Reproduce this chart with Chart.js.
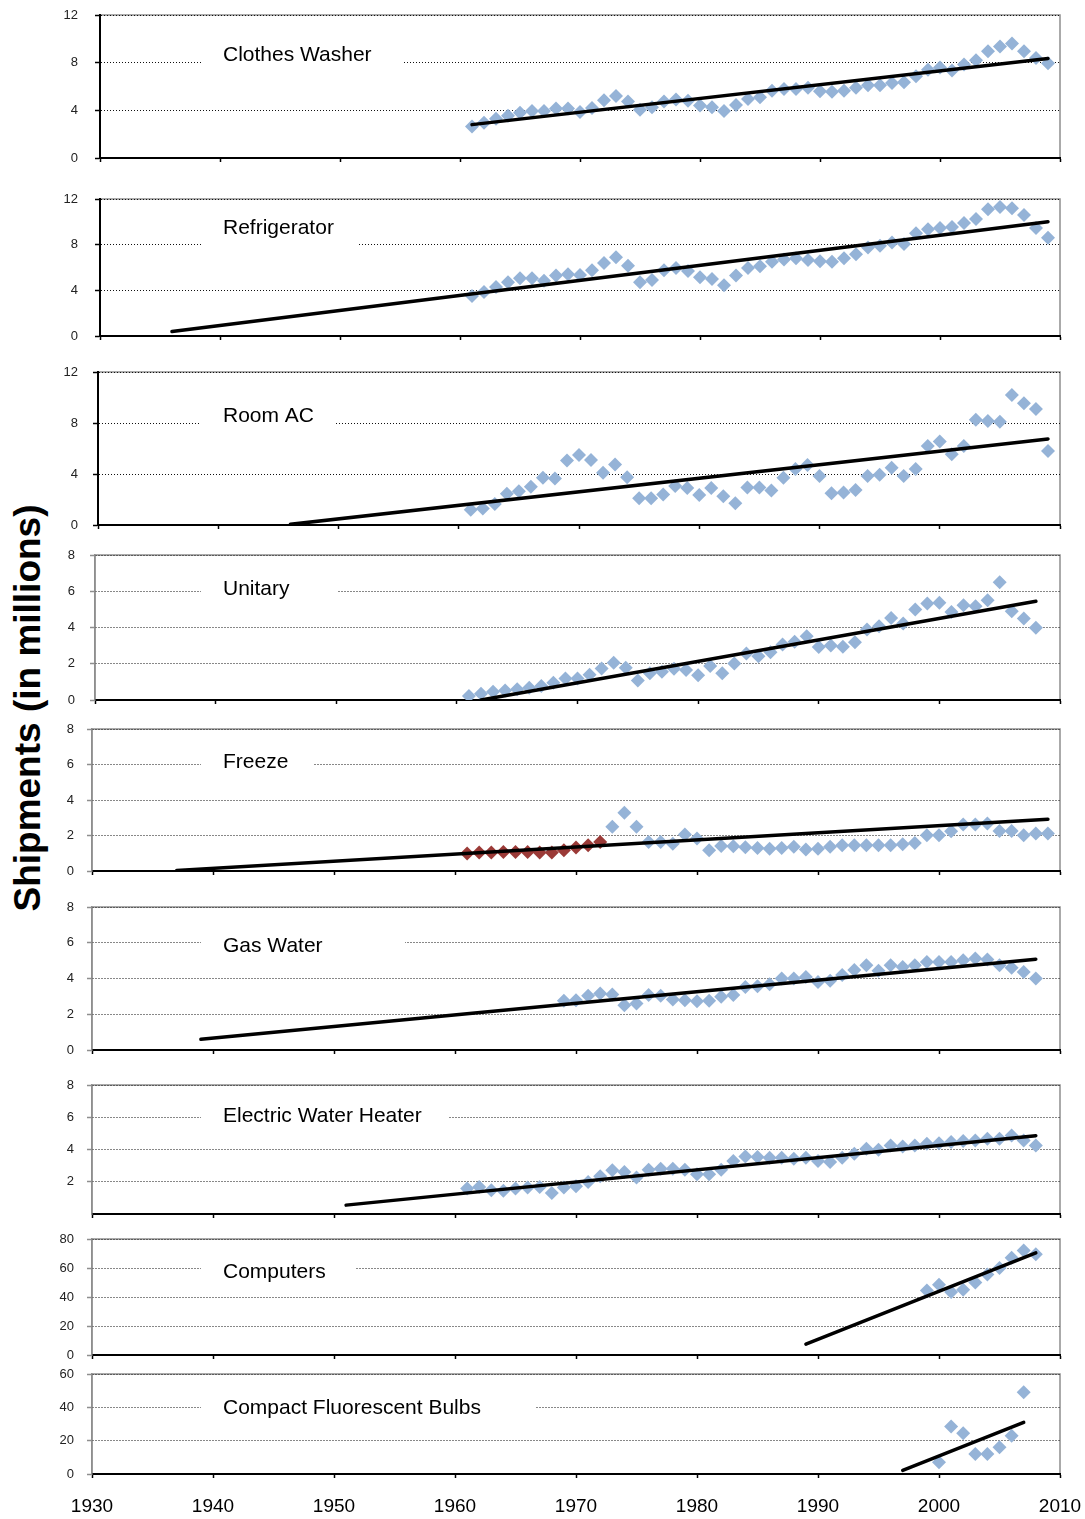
<!DOCTYPE html>
<html>
<head>
<meta charset="utf-8">
<title>Appliance shipments</title>
<script src="https://cdn.jsdelivr.net/npm/chart.js@4.4.1/dist/chart.umd.min.js"></script>
<style>
  html, body { margin: 0; padding: 0; background: #fff; }
  #page { position: relative; width: 1085px; height: 1519px; overflow: hidden; background: #fff; }
  #page canvas { position: absolute; left: 0; }
  #ytitle {
    position: absolute; left: -223px; top: 688px; width: 500px; height: 40px;
    line-height: 40px; text-align: center; white-space: nowrap; color: #000;
    font: bold 37px "Liberation Sans", Arial, Helvetica, sans-serif;
    transform: rotate(-90deg);
  }
</style>
</head>
<body>
<div id="page"><div id="ytitle">Shipments (in millions)</div></div>
<script>
// ---- Years ----
const years1961to2009 = [1961,1962,1963,1964,1965,1966,1967,1968,1969,1970,
  1971,1972,1973,1974,1975,1976,1977,1978,1979,1980,
  1981,1982,1983,1984,1985,1986,1987,1988,1989,1990,
  1991,1992,1993,1994,1995,1996,1997,1998,1999,2000,
  2001,2002,2003,2004,2005,2006,2007,2008,2009];
const years1961to2008 = [1961,1962,1963,1964,1965,1966,1967,1968,1969,1970,
  1971,1972,1973,1974,1975,1976,1977,1978,1979,1980,
  1981,1982,1983,1984,1985,1986,1987,1988,1989,1990,
  1991,1992,1993,1994,1995,1996,1997,1998,1999,2000,
  2001,2002,2003,2004,2005,2006,2007,2008];
const freezerEarlyYears = [1961,1962,1963,1964,1965,1966,1967,1968,1969,1970,1971,1972];
const freezerLateYears = [1973,1974,1975,1976,1977,1978,1979,1980,
  1981,1982,1983,1984,1985,1986,1987,1988,1989,1990,
  1991,1992,1993,1994,1995,1996,1997,1998,1999,2000,
  2001,2002,2003,2004,2005,2006,2007,2008,2009];
const gasWaterYears = [1969,1970,1971,1972,1973,1974,1975,1976,1977,1978,1979,1980,
  1981,1982,1983,1984,1985,1986,1987,1988,1989,1990,
  1991,1992,1993,1994,1995,1996,1997,1998,1999,2000,
  2001,2002,2003,2004,2005,2006,2007,2008];
const computerYears = [1999,2000,2001,2002,2003,2004,2005,2006,2007,2008];
const cflYears = [2000,2001,2002,2003,2004,2005,2006,2007];

// ---- Shipments, millions of units ----
const washerShipments = [2.65,2.95,3.3,3.55,3.8,3.95,3.95,4.15,4.15,3.85,
  4.2,4.85,5.2,4.75,4.05,4.25,4.75,4.9,4.8,4.4,
  4.25,3.95,4.45,4.95,5.1,5.65,5.8,5.8,5.9,5.6,
  5.55,5.65,5.9,6.1,6.1,6.3,6.35,6.85,7.4,7.6,
  7.35,7.85,8.2,8.95,9.35,9.6,8.95,8.4,7.95];
const refrigeratorShipments = [3.5,3.85,4.3,4.7,5.05,5.05,4.85,5.3,5.4,5.35,
  5.75,6.4,6.9,6.15,4.7,4.9,5.75,5.95,5.7,5.15,
  5.0,4.45,5.3,5.95,6.1,6.5,6.7,6.8,6.65,6.55,
  6.5,6.8,7.15,7.75,7.9,8.2,8.05,9.0,9.35,9.45,
  9.55,9.9,10.25,11.1,11.3,11.2,10.6,9.45,8.6];
const roomAcShipments = [1.2,1.3,1.65,2.45,2.65,3.0,3.7,3.65,5.05,5.5,
  5.1,4.1,4.75,3.75,2.1,2.1,2.4,3.05,2.9,2.35,
  2.9,2.25,1.7,2.95,2.95,2.7,3.7,4.4,4.7,3.85,
  2.5,2.55,2.75,3.85,3.95,4.5,3.85,4.4,6.2,6.55,
  5.55,6.2,8.25,8.15,8.1,10.2,9.55,9.1,5.8];
const unitaryShipments = [0.22,0.35,0.46,0.53,0.6,0.68,0.77,0.95,1.19,1.19,
  1.4,1.74,2.06,1.78,1.08,1.47,1.56,1.72,1.65,1.36,
  1.87,1.47,2.02,2.57,2.42,2.64,3.06,3.21,3.52,2.92,
  3.01,2.94,3.19,3.89,4.07,4.53,4.22,4.99,5.32,5.36,
  4.86,5.23,5.17,5.5,6.5,4.9,4.5,3.98];
const freezerEarlyShipments = [0.98,1.04,1.04,1.07,1.07,1.07,1.04,1.04,1.17,1.32,1.45,1.64];
const freezerShipments = [2.49,3.28,2.49,1.64,1.64,1.54,2.05,1.83,
  1.17,1.41,1.39,1.34,1.3,1.26,1.3,1.36,1.21,1.26,
  1.36,1.45,1.45,1.45,1.45,1.45,1.51,1.58,2.01,2.01,
  2.24,2.62,2.62,2.67,2.26,2.26,2.01,2.11,2.11];
const gasWaterShipments = [2.75,2.79,3.03,3.16,3.11,2.51,2.6,3.07,3.03,2.83,2.79,2.73,
  2.75,2.98,3.07,3.53,3.57,3.68,4.0,4.0,4.09,3.81,
  3.87,4.19,4.47,4.74,4.43,4.74,4.65,4.74,4.93,4.93,
  4.93,5.02,5.12,5.06,4.74,4.6,4.37,4.0];
const electricWaterShipments = [1.58,1.68,1.48,1.44,1.58,1.64,1.68,1.31,1.64,1.72,
  1.99,2.34,2.71,2.61,2.26,2.75,2.81,2.81,2.75,2.46,
  2.46,2.75,3.29,3.57,3.53,3.49,3.49,3.43,3.49,3.29,
  3.22,3.49,3.74,4.05,3.98,4.25,4.19,4.25,4.35,4.39,
  4.46,4.52,4.56,4.66,4.66,4.87,4.56,4.25];
const computerShipments = [44.5,48.5,43.5,45,50,55.5,60,67,72,69.5];
const cflShipments = [7,28.5,24.5,12,12,16,23,49];

// ---- Linear trend lines (start and end points) ----
const washerTrendYears = [1961, 2009];        const washerTrendValues = [2.8, 8.35];
const refrigeratorTrendYears = [1936, 2009];  const refrigeratorTrendValues = [0.4, 10.0];
const roomAcTrendYears = [1946, 2009];        const roomAcTrendValues = [0.05, 6.75];
const unitaryTrendYears = [1962, 2008];       const unitaryTrendValues = [0, 5.45];
const freezerTrendYears = [1937, 2009];       const freezerTrendValues = [0.03, 2.92];
const gasWaterTrendYears = [1939, 2008];      const gasWaterTrendValues = [0.6, 5.08];
const electricWaterTrendYears = [1951, 2008]; const electricWaterTrendValues = [0.55, 4.85];
const computerTrendYears = [1989, 2008];      const computerTrendValues = [7.5, 70.5];
const cflTrendYears = [1997, 2007];           const cflTrendValues = [2.2, 31];

// ---- Tick labels ----
const xTickYears = [1930,1940,1950,1960,1970,1980,1990,2000,2010];
const yTicksTwelve = [0,4,8,12];
const yTicksEight = [0,2,4,6,8];
const yTicksEightNoZero = [2,4,6,8];
const yTicksEighty = [0,20,40,60,80];
const yTicksSixty = [0,20,40,60];

// ---- Styling ----
const FONT = '"Liberation Sans", Arial, Helvetica, sans-serif';
const BLUE = '#95B3D7';
const RED = '#9B3A37';

const panels = [
  { title: 'Clothes Washer', series: [[years1961to2009, washerShipments, BLUE]],
    trend: [washerTrendYears, washerTrendValues], yTicks: yTicksTwelve,
    top: 15, bottom: 158, left: 100, labelRight: 78, titleDy: 40, boxRight: 403, axis: '#000' },
  { title: 'Refrigerator', series: [[years1961to2009, refrigeratorShipments, BLUE]],
    trend: [refrigeratorTrendYears, refrigeratorTrendValues], yTicks: yTicksTwelve,
    top: 199, bottom: 336, left: 100, labelRight: 78, titleDy: 29, boxRight: 357, axis: '#000' },
  { title: 'Room AC', series: [[years1961to2009, roomAcShipments, BLUE]],
    trend: [roomAcTrendYears, roomAcTrendValues], yTicks: yTicksTwelve,
    top: 372, bottom: 525, left: 98, labelRight: 78, titleDy: 44, boxRight: 336, axis: '#000' },
  { title: 'Unitary', series: [[years1961to2008, unitaryShipments, BLUE]],
    trend: [unitaryTrendYears, unitaryTrendValues], yTicks: yTicksEight,
    top: 555, bottom: 700, left: 95, labelRight: 75, titleDy: 34, boxRight: 337, axis: '#8e8e8e' },
  { title: 'Freeze', series: [[freezerLateYears, freezerShipments, BLUE], [freezerEarlyYears, freezerEarlyShipments, RED]],
    trend: [freezerTrendYears, freezerTrendValues], yTicks: yTicksEight,
    top: 729, bottom: 871, left: 92, labelRight: 74, titleDy: 33, boxRight: 314, axis: '#8e8e8e' },
  { title: 'Gas Water', series: [[gasWaterYears, gasWaterShipments, BLUE]],
    trend: [gasWaterTrendYears, gasWaterTrendValues], yTicks: yTicksEight,
    top: 907, bottom: 1050, left: 92, labelRight: 74, titleDy: 39, boxRight: 405, axis: '#8e8e8e' },
  { title: 'Electric Water Heater', series: [[years1961to2008, electricWaterShipments, BLUE]],
    trend: [electricWaterTrendYears, electricWaterTrendValues], yTicks: yTicksEightNoZero, yMax: 8,
    top: 1085, bottom: 1214, left: 92, labelRight: 74, titleDy: 31, boxRight: 449, axis: '#8e8e8e' },
  { title: 'Computers', series: [[computerYears, computerShipments, BLUE]],
    trend: [computerTrendYears, computerTrendValues], yTicks: yTicksEighty,
    top: 1239, bottom: 1355, left: 92, labelRight: 74, titleDy: 33, boxRight: 356, axis: '#8e8e8e' },
  { title: 'Compact Fluorescent Bulbs', series: [[cflYears, cflShipments, BLUE]],
    trend: [cflTrendYears, cflTrendValues], yTicks: yTicksSixty,
    top: 1374, bottom: 1474, left: 92, labelRight: 74, titleDy: 34, boxRight: 535, axis: '#8e8e8e',
    showYears: true }
];

// Panel frame, and the panel name in a white box over the grid
const panelDecor = {
  id: 'panelDecor',
  beforeDraw(chart, args, opts) {
    const { ctx, chartArea: a } = chart;
    ctx.save();
    ctx.strokeStyle = '#8e8e8e';
    ctx.lineWidth = 1.5;
    ctx.beginPath();
    ctx.moveTo(a.left, a.bottom);
    ctx.lineTo(a.left, a.top);
    ctx.lineTo(a.right, a.top);
    ctx.lineTo(a.right, a.bottom);
    ctx.stroke();
    ctx.restore();
  },
  beforeDatasetsDraw(chart, args, opts) {
    const { ctx, chartArea: a } = chart;
    const y = a.top + opts.dy;
    ctx.save();
    ctx.fillStyle = '#fff';
    ctx.fillRect(opts.boxLeft, y - 17, opts.boxRight - opts.boxLeft, 34);
    ctx.fillStyle = '#000';
    ctx.font = '21px ' + FONT;
    ctx.textAlign = 'left';
    ctx.textBaseline = 'middle';
    ctx.fillText(opts.text, opts.textX, y);
    ctx.restore();
  }
};

const page = document.getElementById('page');
const PAD_TOP = 12;
const RIGHT_EDGE = 1060;
const PAGE_W = 1085;

panels.forEach(p => {
  const bottomSpace = p.showYears ? 45 : 10;
  const canvasTop = p.top - PAD_TOP;
  const height = (p.bottom - p.top) + PAD_TOP + bottomSpace;
  const canvas = document.createElement('canvas');
  canvas.width = PAGE_W;
  canvas.height = height;
  canvas.style.top = canvasTop + 'px';
  canvas.style.width = PAGE_W + 'px';
  canvas.style.height = height + 'px';
  page.appendChild(canvas);

  const datasets = [{
    label: p.title + ' trend',
    data: p.trend[0].map((yr, i) => ({ x: yr, y: p.trend[1][i] })),
    showLine: true,
    borderColor: '#000',
    borderWidth: 3.5,
    borderCapStyle: 'round',
    pointRadius: 0,
    fill: false
  }];
  p.series.forEach(([yrs, vals, color]) => {
    datasets.push({
      label: p.title,
      data: yrs.map((yr, i) => ({ x: yr, y: vals[i] })),
      pointStyle: 'rectRot',
      pointRadius: 7,
      backgroundColor: color,
      borderColor: color,
      borderWidth: 0,
      showLine: false
    });
  });

  const yMax = p.yMax !== undefined ? p.yMax : p.yTicks[p.yTicks.length - 1];
  const axisIsBlack = p.axis === '#000';

  new Chart(canvas, {
    type: 'scatter',
    data: { datasets },
    plugins: [panelDecor],
    options: {
      responsive: false,
      animation: false,
      devicePixelRatio: 1,
      events: [],
      layout: { padding: { top: PAD_TOP, right: PAGE_W - RIGHT_EDGE, left: 0, bottom: 0 } },
      plugins: {
        legend: { display: false },
        tooltip: { enabled: false },
        panelDecor: { text: p.title, dy: p.titleDy, boxLeft: 201, boxRight: p.boxRight, textX: 223 }
      },
      scales: {
        x: {
          type: 'linear',
          min: xTickYears[0],
          max: xTickYears[xTickYears.length - 1],
          afterBuildTicks: s => { s.ticks = xTickYears.map(v => ({ value: v })); },
          afterFit: s => { s.height = bottomSpace; s.paddingLeft = 0; s.paddingRight = 0; },
          grid: { drawOnChartArea: false, drawTicks: true, tickLength: 4, tickColor: '#000', tickWidth: 1.5 },
          border: { display: true, color: '#000', width: 2 },
          ticks: {
            display: !!p.showYears,
            autoSkip: false,
            maxRotation: 0,
            padding: 17,
            color: '#000',
            font: { family: FONT, size: 19 },
            callback: v => String(v)
          }
        },
        y: {
          type: 'linear',
          min: 0,
          max: yMax,
          afterBuildTicks: s => { s.ticks = p.yTicks.map(v => ({ value: v })); },
          afterFit: s => { s.width = p.left; s.paddingTop = 0; s.paddingBottom = 0; },
          grid: { color: '#111', lineWidth: 1, drawTicks: true, tickLength: 5, tickColor: p.axis, tickWidth: 1.5 },
          border: { display: true, color: p.axis, width: axisIsBlack ? 2 : 1.5, dash: [1, 2] },
          ticks: {
            autoSkip: false,
            padding: p.left - 5 - p.labelRight,
            color: '#222',
            font: { family: FONT, size: 13 },
            callback: v => String(v)
          }
        }
      }
    }
  });
});
</script>
</body>
</html>
